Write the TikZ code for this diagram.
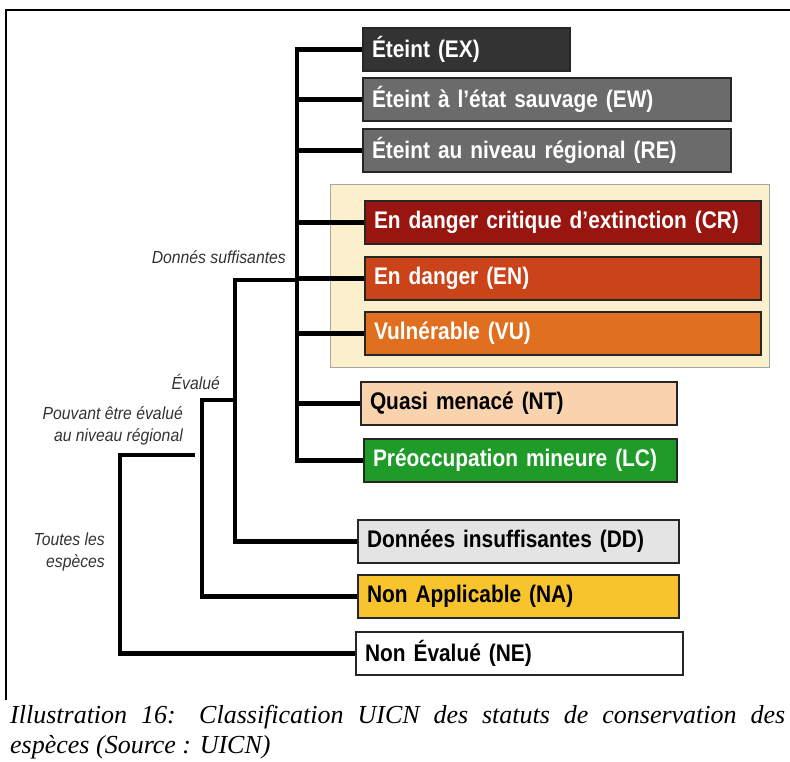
\documentclass[tikz,border=0pt]{standalone}
\usepackage{fontspec}
\setmainfont{Liberation Serif}
\setsansfont{Liberation Sans}
\newfontfamily\boxfont{Liberation Sans}[FakeStretch=0.87]
\newfontfamily\lblfont{Liberation Sans}[FakeStretch=0.9]
\usepackage{xcolor}
\usepackage{tikz}
\usetikzlibrary{positioning}

\definecolor{exgray}{HTML}{333333}
\definecolor{ewgray}{HTML}{6B6B6B}
\definecolor{crred}{HTML}{981510}
\definecolor{enred}{HTML}{CA4319}
\definecolor{vuorange}{HTML}{E0701F}
\definecolor{ntpeach}{HTML}{F9D2AE}
\definecolor{lcgreen}{HTML}{1F9B2A}
\definecolor{ddgray}{HTML}{E4E4E4}
\definecolor{nayellow}{HTML}{F8C42E}
\definecolor{threatbg}{HTML}{FCEFCB}
\definecolor{lblgray}{HTML}{333333}

\begin{document}
\begin{tikzpicture}[
  x=1pt, y=-1pt,
  box/.style={draw=black!85, line width=2pt, anchor=north west,
              text width=#1, inner xsep=9pt, inner ysep=0pt,
              minimum height=43pt, align=left,
              font=\boxfont\bfseries\fontsize{24}{26}\selectfont},
  link/.style={line width=4.5pt, black},
  lbl/.style={font=\lblfont\itshape\fontsize{17.5}{22}\selectfont,
              text=lblgray, inner sep=0pt},
]
\useasboundingbox (0,0) rectangle (790,762);

% frame
\draw[line width=1.3pt] (6,700) -- (6,10) -- (790,10);

% threatened group
\node[fill=threatbg, draw=black!35, line width=1pt, anchor=north west,
      minimum width=439pt, minimum height=183pt, inner sep=0pt] (threat) at (330,184) {};

% status boxes
\node[box=189pt, fill=exgray,   text=white] (ex) at (362,27)  {Éteint (EX)};
\node[box=350pt, fill=ewgray,   text=white] (ew) at (362,77)  {Éteint à l’état sauvage (EW)};
\node[box=350pt, fill=ewgray,   text=white] (re) at (362,128) {Éteint au niveau régional (RE)};
\node[box=378pt, fill=crred,    text=white] (cr) at (364,200) {En danger critique d’extinction (CR)};
\node[box=378pt, fill=enred,    text=white] (en) at (364,256) {En danger (EN)};
\node[box=378pt, fill=vuorange, text=white] (vu) at (364,311) {Vulnérable (VU)};
\node[box=298pt, fill=ntpeach]              (nt) at (360,381) {Quasi menacé (NT)};
\node[box=295pt, fill=lcgreen,  text=white] (lc) at (363,438) {Préoccupation mineure (LC)};
\node[box=303pt, fill=ddgray]               (dd) at (357,519) {Données insuffisantes (DD)};
\node[box=303pt, fill=nayellow]             (na) at (357,574) {Non Applicable (NA)};
\node[box=309pt, fill=white]                (ne) at (355,631) {Non Évalué (NE)};

% junctions
\coordinate (jsuf)  at (297,280);
\coordinate (jeval) at (235,400);
\coordinate (jreg)  at (202,455);
\coordinate (jall)  at (195,455);
\coordinate (tall)  at (120,455);

% tree
\draw[link] (ex.west) -| (lc.west -| jsuf) -- (lc.west);
\foreach \s in {ew,re,cr,en,vu,nt}
  \draw[link] (\s.west) -- (\s.west -| jsuf);
\draw[link] (jsuf) -- (jsuf -| jeval) |- (dd.west);
\draw[link] (jeval) -- (jeval -| jreg) |- (na.west);
\draw[link] (jall) -- (tall) |- (ne.west);

% branch labels
\node[lbl, anchor=east] (suf) at (286,257) {Donnés suffisantes};
\node[lbl, anchor=east] (eval) at (220,382) {Évalué};
\node[lbl, anchor=east, align=right] (reg) at (183,426) {Pouvant être évalué\\au niveau régional};
\node[lbl, anchor=east, align=right] (all) at (105,552) {Toutes les\\espèces};

% caption
\node[anchor=north west, inner sep=0pt, text width=775pt, align=justify,
      font=\itshape\fontsize{26}{30}\selectfont] (caption) at (10,705)
  {Illustration 16: Classification UICN des statuts de conservation des\linebreak
   espèces (Source : UICN)};
\end{tikzpicture}
\end{document}
